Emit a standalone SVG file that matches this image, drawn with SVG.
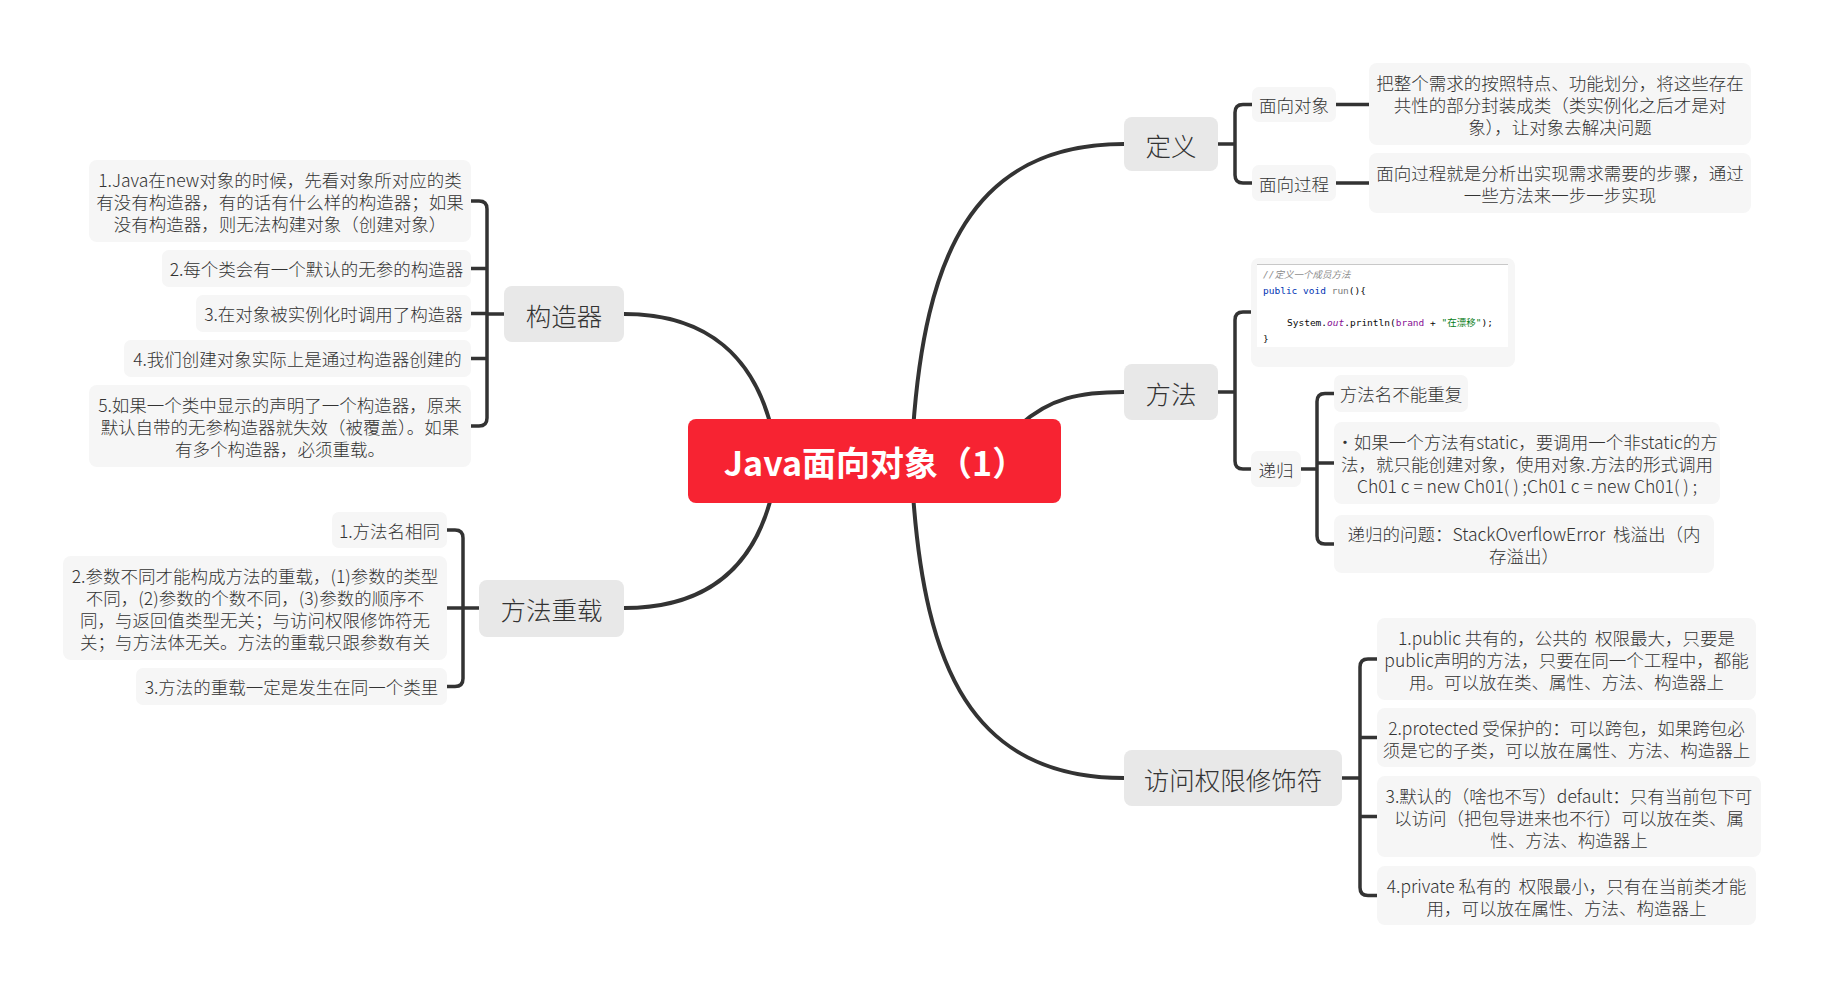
<svg xmlns="http://www.w3.org/2000/svg" width="1825" height="988" viewBox="0 0 1825 988">
<style>
.t{font-family:"Noto Sans CJK SC","Noto Sans",sans-serif;fill:#333;dominant-baseline:central;text-anchor:middle;font-weight:300}
.s{font-size:17.5px}
.m{font-size:25.5px}
.b{fill:#e8e8e8}
.c{fill:#f6f6f6}
.lk{fill:none;stroke:#333;stroke-width:4;stroke-linecap:round}
.br{fill:none;stroke:#333;stroke-width:3.5}
.code{font-family:"DejaVu Sans Mono","Liberation Mono","Noto Sans CJK SC",monospace;font-size:9.5px;fill:#080808;dominant-baseline:central}
</style>
<rect width="1825" height="988" fill="#ffffff"/>
<g id="connectors">
<path class="lk" d="M913,430 C925,260 970,144 1124,144"/>
<path class="lk" d="M1020,425 C1050,398 1080,392 1124,392"/>
<path class="lk" d="M913,494 C925,664 970,778 1124,778"/>
<path class="lk" d="M772,430 C755,360 710,314 624,314"/>
<path class="lk" d="M772,494 C755,564 710,608 624,608"/>
<path class="br" d="M1218,144 H1235 M1252,104.5 H1243 Q1235,104.5 1235,112.5 V175 Q1235,183 1243,183 H1252"/>
<path class="br" d="M1336,104.5 H1369 M1336,183 H1369"/>
<path class="br" d="M1218,392 H1235 M1251,312 H1243 Q1235,312 1235,320 V461 Q1235,469 1243,469 H1251"/>
<path class="br" d="M1301,469 H1317 M1334,393.5 H1325 Q1317,393.5 1317,401.5 V536 Q1317,544 1325,544 H1334 M1317,463 H1334"/>
<path class="br" d="M1342,778 H1360 M1377,659 H1368 Q1360,659 1360,667 V887.5 Q1360,895.5 1368,895.5 H1377 M1360,737.5 H1377 M1360,816.5 H1377"/>
<path class="br" d="M504,314 H487 M471,201 H479 Q487,201 487,209 V418 Q487,426 479,426 H471 M487,268.5 H471 M487,313.5 H471 M487,358.5 H471"/>
<path class="br" d="M479,608 H463 M447,530 H455 Q463,530 463,538 V678.5 Q463,686.5 455,686.5 H447 M463,608 H447"/>
</g>
<g id="root">
<rect x="688" y="419" width="373" height="84" rx="8" fill="#f72332"/>
<text class="t" x="875" y="461" style="font-size:34px;font-weight:bold;fill:#ffffff">Java面向对象（1）</text>
</g>
<g id="dingyi">
<rect class="b" x="1124" y="117" width="94" height="54" rx="8"/>
<text class="t m" x="1171" y="144">定义</text>
</g>
<g id="mxdx">
<rect class="c" x="1252" y="87" width="84" height="35" rx="7"/>
<text class="t s" x="1294" y="104.5">面向对象</text>
</g>
<g id="mxgc">
<rect class="c" x="1252" y="165" width="84" height="36" rx="7"/>
<text class="t s" x="1294" y="183">面向过程</text>
</g>
<g id="mxdx-desc">
<rect class="c" x="1369" y="63" width="382" height="82" rx="8"/>
<text class="t s"><tspan x="1560" y="82">把整个需求的按照特点、功能划分，将这些存在</tspan><tspan x="1560" y="104">共性的部分封装成类（类实例化之后才是对</tspan><tspan x="1560" y="126">象），让对象去解决问题</tspan></text>
</g>
<g id="mxgc-desc">
<rect class="c" x="1369" y="153" width="382" height="60" rx="8"/>
<text class="t s"><tspan x="1560" y="172">面向过程就是分析出实现需求需要的步骤，通过</tspan><tspan x="1560" y="194">一些方法来一步一步实现</tspan></text>
</g>
<g id="fangfa">
<rect class="b" x="1124" y="364" width="94" height="56" rx="8"/>
<text class="t m" x="1171" y="392">方法</text>
</g>
<g id="code">
<rect class="c" x="1251" y="258" width="264" height="109" rx="8"/>
<rect x="1257" y="264" width="251" height="83" fill="#ffffff"/>
<line x1="1257" y1="264.5" x2="1508" y2="264.5" stroke="#c8c8c8" stroke-width="1"/>
<text class="code" x="1263" y="274" style="font-style:italic;fill:#8c8c8c">//定义一个成员方法</text>
<text class="code" x="1263" y="290"><tspan fill="#0033b3">public void</tspan> <tspan fill="#7a7a7a">run</tspan>(){</text>
<text class="code" x="1287" y="322">System.<tspan fill="#871094" font-style="italic">out</tspan>.println(<tspan fill="#871094">brand</tspan> + <tspan fill="#067d17">"在漂移"</tspan>);</text>
<text class="code" x="1263" y="338">}</text>
</g>
<g id="digui">
<rect class="c" x="1251" y="451" width="50" height="36" rx="7"/>
<text class="t s" x="1276" y="469">递归</text>
</g>
<g id="digui-1">
<rect class="c" x="1334" y="375" width="134" height="37" rx="7"/>
<text class="t s" x="1401" y="393.5">方法名不能重复</text>
</g>
<g id="digui-2">
<rect class="c" x="1334" y="422" width="386" height="82" rx="8"/>
<text class="t s"><tspan x="1527" y="441">·如果一个方法有static，要调用一个非static的方</tspan><tspan x="1527" y="463">法，就只能创建对象，使用对象.方法的形式调用</tspan><tspan x="1527" y="485">Ch01 c = new Ch01( ) ;Ch01 c = new Ch01( ) ;</tspan></text>
</g>
<g id="digui-3">
<rect class="c" x="1334" y="515" width="380" height="58" rx="8"/>
<text class="t s"><tspan x="1524" y="533">递归的问题：StackOverflowError &#160;栈溢出（内</tspan><tspan x="1524" y="555">存溢出）</tspan></text>
</g>
<g id="fangwen">
<rect class="b" x="1124" y="750" width="218" height="56" rx="8"/>
<text class="t m" x="1233" y="778">访问权限修饰符</text>
</g>
<g id="fangwen-1">
<rect class="c" x="1377" y="618" width="379" height="82" rx="8"/>
<text class="t s"><tspan x="1566.5" y="637">1.public 共有的，公共的 &#160;权限最大，只要是</tspan><tspan x="1566.5" y="659">public声明的方法，只要在同一个工程中，都能</tspan><tspan x="1566.5" y="681">用。可以放在类、属性、方法、构造器上</tspan></text>
</g>
<g id="fangwen-2">
<rect class="c" x="1377" y="708" width="379" height="59" rx="8"/>
<text class="t s"><tspan x="1566.5" y="726.5">2.protected 受保护的：可以跨包，如果跨包必</tspan><tspan x="1566.5" y="748.5">须是它的子类，可以放在属性、方法、构造器上</tspan></text>
</g>
<g id="fangwen-3">
<rect class="c" x="1377" y="776" width="384" height="81" rx="8"/>
<text class="t s"><tspan x="1569" y="794.5">3.默认的（啥也不写）default：只有当前包下可</tspan><tspan x="1569" y="816.5">以访问（把包导进来也不行）可以放在类、属</tspan><tspan x="1569" y="838.5">性、方法、构造器上</tspan></text>
</g>
<g id="fangwen-4">
<rect class="c" x="1377" y="866" width="379" height="59" rx="8"/>
<text class="t s"><tspan x="1566.5" y="884.5">4.private 私有的 &#160;权限最小，只有在当前类才能</tspan><tspan x="1566.5" y="906.5">用，可以放在属性、方法、构造器上</tspan></text>
</g>
<g id="gouzaoqi">
<rect class="b" x="504" y="286" width="120" height="56" rx="8"/>
<text class="t m" x="564" y="314">构造器</text>
</g>
<g id="gzq-1">
<rect class="c" x="89" y="160" width="382" height="82" rx="8"/>
<text class="t s"><tspan x="280" y="179">1.Java在new对象的时候，先看对象所对应的类</tspan><tspan x="280" y="201">有没有构造器，有的话有什么样的构造器；如果</tspan><tspan x="280" y="223">没有构造器，则无法构建对象（创建对象）</tspan></text>
</g>
<g id="gzq-2">
<rect class="c" x="162" y="250" width="309" height="37" rx="7"/>
<text class="t s" x="316.5" y="268.5">2.每个类会有一个默认的无参的构造器</text>
</g>
<g id="gzq-3">
<rect class="c" x="196" y="295" width="275" height="37" rx="7"/>
<text class="t s" x="333.5" y="313.5">3.在对象被实例化时调用了构造器</text>
</g>
<g id="gzq-4">
<rect class="c" x="124" y="340" width="347" height="37" rx="7"/>
<text class="t s" x="297.5" y="358.5">4.我们创建对象实际上是通过构造器创建的</text>
</g>
<g id="gzq-5">
<rect class="c" x="89" y="385" width="382" height="82" rx="8"/>
<text class="t s"><tspan x="280" y="404">5.如果一个类中显示的声明了一个构造器，原来</tspan><tspan x="280" y="426">默认自带的无参构造器就失效（被覆盖）。如果</tspan><tspan x="280" y="448">有多个构造器，必须重载。</tspan></text>
</g>
<g id="chongzai">
<rect class="b" x="479" y="580" width="145" height="57" rx="8"/>
<text class="t m" x="551.5" y="608">方法重载</text>
</g>
<g id="cz-1">
<rect class="c" x="332" y="512" width="115" height="36" rx="7"/>
<text class="t s" x="389.5" y="530">1.方法名相同</text>
</g>
<g id="cz-2">
<rect class="c" x="63" y="556" width="384" height="104" rx="8"/>
<text class="t s"><tspan x="255" y="575">2.参数不同才能构成方法的重载，(1)参数的类型</tspan><tspan x="255" y="597">不同，(2)参数的个数不同，(3)参数的顺序不</tspan><tspan x="255" y="619">同，与返回值类型无关；与访问权限修饰符无</tspan><tspan x="255" y="641">关；与方法体无关。方法的重载只跟参数有关</tspan></text>
</g>
<g id="cz-3">
<rect class="c" x="136" y="668" width="311" height="37" rx="7"/>
<text class="t s" x="291.5" y="686.5">3.方法的重载一定是发生在同一个类里</text>
</g>
</svg>
